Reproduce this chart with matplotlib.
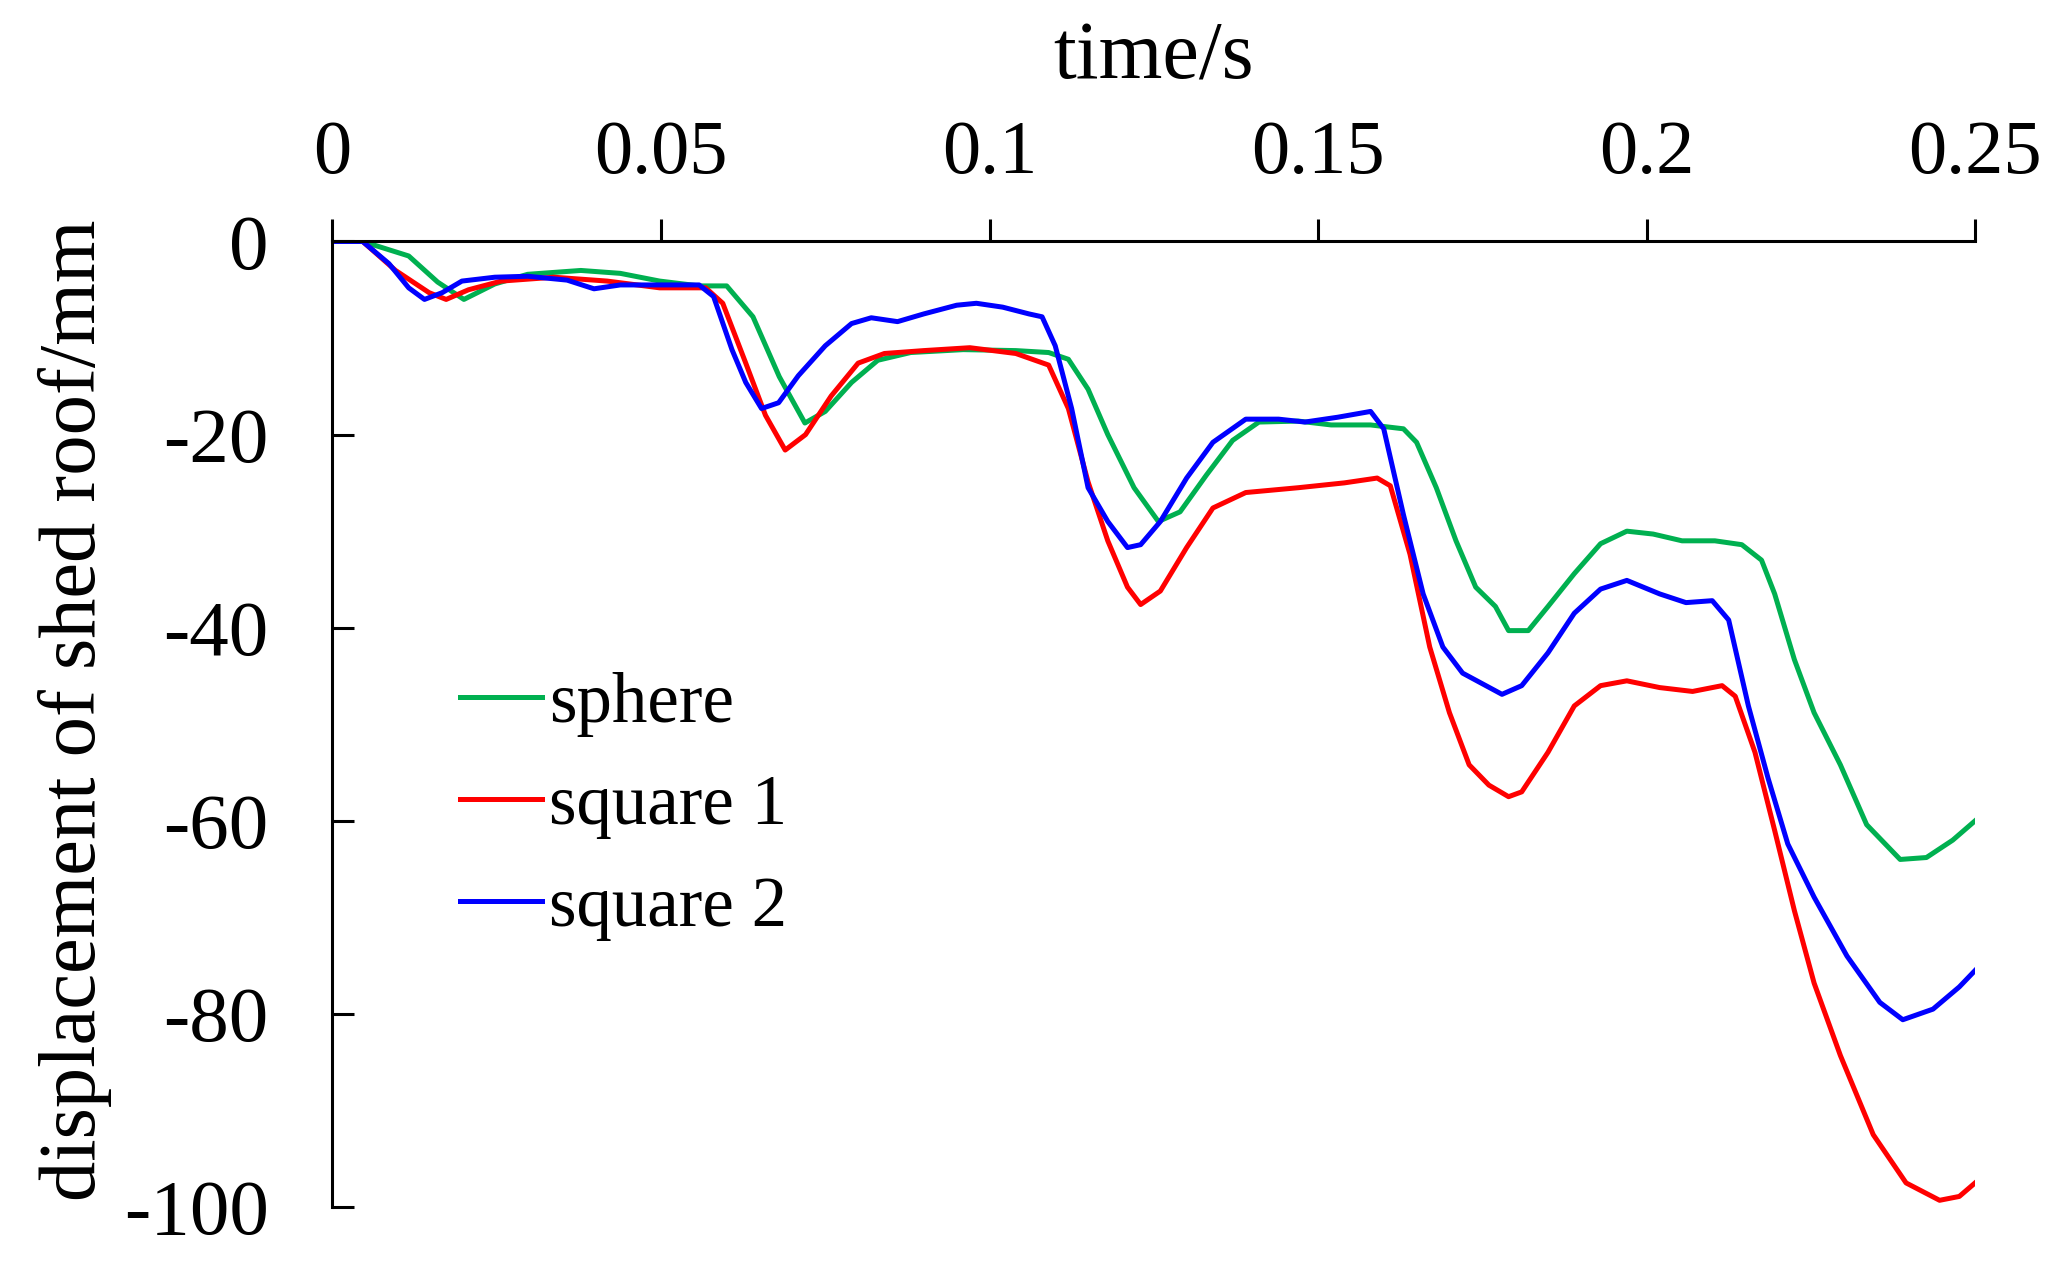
import matplotlib
matplotlib.use("Agg")
import matplotlib.pyplot as plt

# values (time in s, displacement in mm)
t_sphere = [0, 0.0046, 0.0116, 0.016, 0.020, 0.0247, 0.0297, 0.0378, 0.0438, 0.0498,
            0.0558, 0.060, 0.064, 0.068, 0.0719, 0.075, 0.079, 0.083, 0.088, 0.096,
            0.104, 0.109, 0.112, 0.115, 0.118, 0.122, 0.1257, 0.129, 0.133, 0.137,
            0.141, 0.147, 0.152, 0.158, 0.163, 0.165, 0.168, 0.171, 0.174, 0.177,
            0.179, 0.182, 0.185, 0.189, 0.193, 0.197, 0.201, 0.2054, 0.2104, 0.2145,
            0.2175, 0.2195, 0.2225, 0.2255, 0.2295, 0.2335, 0.2386, 0.2426, 0.2466, 0.25]
d_sphere = [0, 0, -1.5, -4.2, -6.0, -4.4, -3.4, -3.0, -3.3, -4.1,
            -4.6, -4.6, -7.8, -14.0, -18.8, -17.6, -14.6, -12.3, -11.5, -11.2,
            -11.3, -11.5, -12.2, -15.3, -20.0, -25.5, -29.0, -28.0, -24.2, -20.6,
            -18.7, -18.6, -19.0, -19.0, -19.4, -20.8, -25.5, -31.0, -35.8, -37.8,
            -40.3, -40.3, -37.8, -34.4, -31.3, -30.0, -30.3, -31.0, -31.0, -31.4,
            -33.0, -36.5, -43.3, -48.8, -54.2, -60.4, -64.0, -63.8, -62.0, -60.0]

t_square1 = [0, 0.0046, 0.0096, 0.0147, 0.0173, 0.0207, 0.0257, 0.0337, 0.0418, 0.0498,
             0.0568, 0.0594, 0.0629, 0.0659, 0.0689, 0.072, 0.0759, 0.080, 0.084, 0.090,
             0.097, 0.104, 0.109, 0.112, 0.115, 0.118, 0.121, 0.123, 0.126, 0.130,
             0.134, 0.139, 0.147, 0.154, 0.159, 0.161, 0.164, 0.167, 0.170, 0.173,
             0.176, 0.179, 0.181, 0.185, 0.189, 0.193, 0.197, 0.202, 0.207, 0.2115,
             0.2135, 0.2165, 0.2195, 0.2225, 0.2255, 0.2295, 0.2345, 0.2395, 0.2446, 0.2476, 0.25]
d_square1 = [0, 0, -3.0, -5.3, -6.0, -5.0, -4.1, -3.7, -4.1, -4.8,
             -4.8, -6.4, -12.6, -18.0, -21.6, -20.0, -16.0, -12.6, -11.6, -11.3,
             -11.0, -11.6, -12.8, -17.3, -24.9, -31.0, -35.8, -37.6, -36.2, -31.7,
             -27.6, -26.0, -25.5, -25.0, -24.5, -25.3, -32.4, -42.0, -48.8, -54.2,
             -56.3, -57.5, -57.0, -52.9, -48.1, -46.0, -45.5, -46.2, -46.6, -46.0,
             -47.1, -52.9, -61.0, -69.3, -76.8, -84.3, -92.5, -97.5, -99.3, -98.9, -97.5]

t_square2 = [0, 0.0046, 0.0086, 0.0116, 0.014, 0.0167, 0.0197, 0.0247, 0.0297, 0.0357,
             0.0398, 0.0438, 0.0498, 0.0558, 0.058, 0.0608, 0.0629, 0.0653, 0.0679, 0.0709,
             0.075, 0.079, 0.082, 0.086, 0.090, 0.095, 0.098, 0.102, 0.106, 0.108,
             0.110, 0.1125, 0.115, 0.118, 0.121, 0.123, 0.126, 0.130, 0.134, 0.139,
             0.144, 0.148, 0.153, 0.158, 0.160, 0.163, 0.166, 0.169, 0.172, 0.175,
             0.178, 0.181, 0.185, 0.189, 0.193, 0.197, 0.202, 0.206, 0.210, 0.2125,
             0.2155, 0.2185, 0.2215, 0.2255, 0.2305, 0.2355, 0.239, 0.2436, 0.2476, 0.25]
d_square2 = [0, 0, -2.3, -4.8, -6.0, -5.3, -4.1, -3.7, -3.6, -4.0,
             -4.9, -4.5, -4.5, -4.5, -5.7, -11.2, -14.6, -17.3, -16.7, -13.9,
             -10.8, -8.5, -7.9, -8.3, -7.5, -6.6, -6.4, -6.8, -7.5, -7.8,
             -10.8, -17.3, -25.5, -29.0, -31.7, -31.4, -29.0, -24.5, -20.8, -18.4,
             -18.4, -18.7, -18.2, -17.6, -19.4, -28.3, -36.5, -42.0, -44.7, -45.8,
             -46.9, -46.0, -42.6, -38.5, -36.0, -35.1, -36.5, -37.4, -37.2, -39.2,
             -48.1, -55.6, -62.4, -67.9, -74.0, -78.8, -80.6, -79.5, -77.2, -75.5]

x_ticks = [0, 0.05, 0.1, 0.15, 0.2, 0.25]
x_tick_labels = ["0", "0.05", "0.1", "0.15", "0.2", "0.25"]
y_ticks = [0, -20, -40, -60, -80, -100]
y_tick_labels = ["0", "-20", "-40", "-60", "-80", "-100"]

plt.rcParams['font.family'] = ['Liberation Serif', 'DejaVu Serif']

fig = plt.figure(figsize=(20.69, 12.73), dpi=100)
ax = fig.add_axes([0.1607, 0.0518, 0.9546 - 0.1607, 0.8103 - 0.0518])

lw = 3.6
ax.plot(t_sphere, d_sphere, color='#00B050', lw=lw, label='sphere', solid_joinstyle='round')
ax.plot(t_square1, d_square1, color='#FF0000', lw=lw, label='square 1', solid_joinstyle='round')
ax.plot(t_square2, d_square2, color='#0000FF', lw=lw, label='square 2', solid_joinstyle='round')

ax.set_xlim(0, 0.25)
ax.set_ylim(-100, 0)

ax.spines['right'].set_visible(False)
ax.spines['bottom'].set_visible(False)
ax.spines['top'].set_linewidth(2.2)
ax.spines['left'].set_linewidth(2.2)

ax.xaxis.tick_top()
ax.xaxis.set_label_position('top')
ax.set_xticks(x_ticks)
ax.set_xticklabels(x_tick_labels)
ax.set_yticks(y_ticks)
ax.set_yticklabels(y_tick_labels)

ax.tick_params(axis='x', direction='out', length=16, width=2.2, labelsize=55, pad=22)
ax.tick_params(axis='y', direction='in', length=16, width=2.2, labelsize=57, pad=46)

ax.set_xlabel('time/s', fontsize=59, labelpad=30)
ax.set_ylabel('displacement of shed roof/mm', fontsize=58)
ax.yaxis.set_label_coords(-0.134, 0.515)

ax.legend(loc='center left', bbox_to_anchor=(0.0775, 0.415), frameon=False,
          fontsize=51, handlelength=1.16, handletextpad=0.1, labelspacing=0.52,
          borderaxespad=0, borderpad=0)

fig.savefig('out.png', dpi=100)
